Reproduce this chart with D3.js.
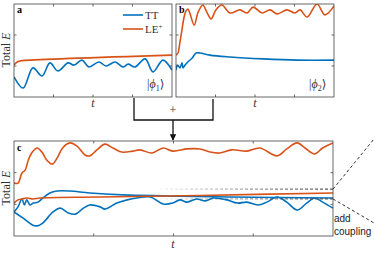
<!DOCTYPE html>
<html>
<head>
<meta charset="utf-8">
<script src="https://cdn.jsdelivr.net/npm/d3@7"></script>
<style>
  body { margin: 0; background: #fff; }
</style>
</head>
<body>
<div id="chart"></div>
<script>
// ---- data ----
const aTT_t = [0, .23, .48, .71, .91, 1.11, 1.37, 1.52, 1.72, 1.90, 2.15, 2.33, 2.56, 2.76, 2.89, 3.06, 3.32, 3.52, 3.77, 4.0];
const aTT_E = [.65, .29, .94, .68, 1.10, .84, 1.10, 1.03, 1.19, .97, 1.13, 1.00, 1.13, .97, 1.06, .97, 1.23, .81, 1.19, .87];
const aLE_t = [0, .08, .15, .28, 4];
const aLE_E = [1.03, 1.13, 1.16, 1.18, 1.35];

const bTT_t = [0, .04, .10, .15, .18, .23, .30, .41, .51, .61, .86, 1.37, 2.20, 3.06, 4.0];
const bTT_E = [.87, 1.03, .94, 1.10, .94, 1.03, 1.13, 1.26, 1.42, 1.42, 1.35, 1.29, 1.23, 1.19, 1.19];
const bLE_t = [0, .05, .10, .15, .20, .25, .30, .35, .46, .56, .68, .78, .89, 1.01, 1.16, 1.37, 1.62, 1.80, 1.95, 2.18, 2.38, 2.56, 2.81, 3.01, 3.14, 3.32, 3.57, 3.77, 4.0];
const bLE_E = [1.35, 1.42, 1.77, 2.16, 2.55, 2.77, 2.84, 2.71, 2.32, 2.74, 2.97, 2.74, 2.52, 2.81, 2.97, 2.71, 2.81, 2.71, 2.90, 2.71, 2.81, 2.68, 2.81, 2.71, 2.81, 2.58, 3.0, 2.65, 2.94];

const cLEtop_t = [0, .05, .10, .14, .18, .23, .29, .35, .41, .48, .54, .61, .70, .79, .89, .95, 1.04, 1.14, 1.24, 1.35, 1.49, 1.58, 1.73, 1.87, 1.99, 2.17, 2.33, 2.46, 2.58, 2.73, 2.92, 3.08, 3.30, 3.42, 3.55, 3.65, 3.77, 3.87, 4.0];
const cLEtop_E = [1.67, 1.67, 1.99, 2.08, 2.40, 2.65, 2.78, 2.65, 2.40, 2.27, 2.46, 2.78, 2.94, 2.84, 2.56, 2.53, 2.72, 2.90, 2.78, 2.65, 2.68, 2.72, 2.62, 2.78, 2.68, 2.75, 2.75, 2.65, 2.62, 2.72, 2.68, 2.78, 2.53, 2.75, 2.94, 2.78, 2.59, 2.78, 2.94];
const cLEflat_t = [0, .05, .10, .16, .24, .33, 1.08, 2.33, 4.0];
const cLEflat_E = [1.04, 1.14, 1.17, 1.20, 1.17, 1.20, 1.23, 1.28, 1.36];
const cTTup_t = [0, .05, .10, .13, .16, .20, .24, .30, .36, .45, .54, .70, .95, 1.45, 2.08, 2.71, 4.0];
const cTTup_E = [.76, .92, 1.17, .98, 1.14, .98, 1.04, 1.07, 1.20, 1.36, 1.42, 1.42, 1.36, 1.29, 1.26, 1.23, 1.20];
const cTTlow_t = [0, .11, .23, .29, .36, .49, .58, .68, .77, .87, .95, 1.08, 1.14, 1.29, 1.42, 1.54, 1.71, 1.87, 1.99, 2.08, 2.17, 2.29, 2.40, 2.50, 2.67, 2.80, 2.92, 3.06, 3.17, 3.30, 3.42, 3.55, 3.67, 3.77, 3.87, 4.0];
const cTTlow_E = [.76, .57, .35, .32, .41, .76, .88, .73, .69, .88, .98, .92, .85, 1.04, 1.14, 1.20, 1.23, 1.01, 1.04, 1.14, 1.07, 1.17, 1.11, 1.20, 1.14, 1.04, 1.07, .98, 1.07, 1.23, 1.07, .82, 1.04, 1.20, 1.07, .88];

const dashLevels = [1.48, 1.17];
const xTicks = [1, 2, 3];
const yTicks = [1, 2];

const blue = '#0072BD';
const orange = '#D95319';
const serif = '"Liberation Serif", "Times New Roman", serif';
const sans = '"Liberation Sans", Arial, sans-serif';

const svg = d3.select('#chart').append('svg')
  .attr('width', 374)
  .attr('height', 256)
  .style('font-family', serif);

const defs = svg.append('defs');
const grad = defs.append('linearGradient')
  .attr('id', 'fade')
  .attr('gradientUnits', 'userSpaceOnUse')
  .attr('x1', 150).attr('x2', 333).attr('y1', 0).attr('y2', 0);
grad.append('stop').attr('offset', 0).attr('stop-color', '#555').attr('stop-opacity', 0);
grad.append('stop').attr('offset', 1).attr('stop-color', '#555').attr('stop-opacity', 1);

const marker = defs.append('marker')
  .attr('id', 'arrow')
  .attr('viewBox', '0 0 10 10')
  .attr('refX', 9).attr('refY', 5)
  .attr('markerWidth', 5).attr('markerHeight', 5)
  .attr('orient', 'auto');
marker.append('path').attr('d', 'M0,0 L10,5 L0,10 z').attr('fill', '#111');

function zip(ts, es) { return ts.map((t, i) => [t, es[i]]); }

// draw one panel: box, ticks, curves
function panel(x0, x1, y0, y1, series) {
  const x = d3.scaleLinear().domain([0, 4]).range([x0, x1]);
  const y = d3.scaleLinear().domain([0, 3]).range([y1, y0]);
  const g = svg.append('g');

  const line = d3.line()
    .x(d => x(d[0]))
    .y(d => y(d[1]))
    .curve(d3.curveCatmullRom);

  const clipId = 'clip' + x0 + '_' + y0;
  defs.append('clipPath').attr('id', clipId)
    .append('rect').attr('x', x0).attr('y', y0).attr('width', x1 - x0).attr('height', y1 - y0);

  const curves = g.append('g').attr('clip-path', 'url(#' + clipId + ')');
  series.forEach(s => {
    curves.append('path')
      .datum(zip(s.t, s.e))
      .attr('d', line)
      .attr('fill', 'none')
      .attr('stroke', s.color)
      .attr('stroke-width', 1.6);
  });

  // box axes (ticks inward on all four sides)
  const tk = 2.5;
  const ax = g.append('g').attr('stroke', '#444').attr('stroke-width', 0.8);
  ax.append('rect').attr('x', x0).attr('y', y0).attr('width', x1 - x0).attr('height', y1 - y0).attr('fill', 'none');
  xTicks.forEach(v => {
    ax.append('line').attr('x1', x(v)).attr('x2', x(v)).attr('y1', y1).attr('y2', y1 - tk);
    ax.append('line').attr('x1', x(v)).attr('x2', x(v)).attr('y1', y0).attr('y2', y0 + tk);
  });
  yTicks.forEach(v => {
    ax.append('line').attr('x1', x0).attr('x2', x0 + tk).attr('y1', y(v)).attr('y2', y(v));
    ax.append('line').attr('x1', x1).attr('x2', x1 - tk).attr('y1', y(v)).attr('y2', y(v));
  });
  return { x, y, g };
}

const pa = panel(14, 172, 4, 97, [
  { t: aLE_t, e: aLE_E, color: orange },
  { t: aTT_t, e: aTT_E, color: blue }
]);
const pb = panel(176, 334, 4, 97, [
  { t: bLE_t, e: bLE_E, color: orange },
  { t: bTT_t, e: bTT_E, color: blue }
]);
const pc = panel(14, 333, 141, 236, [
  { t: cLEtop_t, e: cLEtop_E, color: orange },
  { t: cTTup_t, e: cTTup_E, color: blue },
  { t: cTTlow_t, e: cTTlow_E, color: blue },
  { t: cLEflat_t, e: cLEflat_E, color: orange }
]);

// dashed converged levels in panel c
dashLevels.forEach(v => {
  svg.append('line')
    .attr('x1', 150).attr('x2', 333)
    .attr('y1', pc.y(v)).attr('y2', pc.y(v))
    .attr('stroke', 'url(#fade)')
    .attr('stroke-width', 1.2)
    .attr('stroke-dasharray', '3,2');
});

// dashed lines out to the right
svg.append('line').attr('x1', 333).attr('y1', pc.y(dashLevels[0]))
  .attr('x2', 374).attr('y2', 139)
  .attr('stroke', '#333').attr('stroke-width', 1).attr('stroke-dasharray', '3,2.5');
svg.append('line').attr('x1', 333).attr('y1', pc.y(dashLevels[1]))
  .attr('x2', 374).attr('y2', 223)
  .attr('stroke', '#333').attr('stroke-width', 1).attr('stroke-dasharray', '3,2.5');

svg.append('text').attr('x', 334).attr('y', 222)
  .style('font-family', sans).style('font-size', '10px').attr('fill', '#222').text('add');
svg.append('text').attr('x', 334).attr('y', 235)
  .style('font-family', sans).style('font-size', '10px').attr('fill', '#222').text('coupling');

// y labels
function yLabel(cx, cy) {
  const t = svg.append('text')
    .attr('transform', 'translate(' + cx + ',' + cy + ') rotate(-90)')
    .attr('text-anchor', 'middle')
    .attr('fill', '#333')
    .style('font-family', serif)
    .style('font-size', '12px');
  t.append('tspan').text('Total ');
  t.append('tspan').style('font-style', 'italic').text('E');
}
yLabel(10, 50);
yLabel(10, 188);

// x labels
[[93, 107], [255, 107], [173, 248]].forEach(p => {
  svg.append('text').attr('x', p[0]).attr('y', p[1])
    .attr('text-anchor', 'middle').attr('fill', '#333')
    .style('font-family', serif)
    .style('font-size', '12px').style('font-style', 'italic').text('t');
});

// panel letters
[['a', 17, 13], ['b', 179, 13], ['c', 17, 151]].forEach(p => {
  svg.append('text').attr('x', p[1]).attr('y', p[2])
    .style('font-family', serif)
    .style('font-size', '10px').style('font-weight', 'bold').text(p[0]);
});

// legend
const legend = [['TT', blue], ['LE', orange]];
legend.forEach((d, i) => {
  const ly = 15 + i * 14;
  svg.append('line').attr('x1', 123).attr('x2', 143).attr('y1', ly).attr('y2', ly)
    .attr('stroke', d[1]).attr('stroke-width', 1.6);
  const t = svg.append('text').attr('x', 145).attr('y', ly + 3.5).attr('fill', '#333')
    .style('font-family', serif).style('font-size', '11px').text(d[0]);
  if (i === 1) t.append('tspan').attr('dy', -4).style('font-size', '7px').text('+');
});

// state kets
function ket(xp, yp, n) {
  const t = svg.append('text').attr('x', xp).attr('y', yp).attr('fill', '#333')
    .style('font-family', serif).style('font-size', '12px');
  t.append('tspan').text('|');
  t.append('tspan').style('font-style', 'italic').text('\u03d5');
  t.append('tspan').attr('dy', 2.5).style('font-size', '8px').text(n);
  t.append('tspan').attr('dy', -2.5).style('font-family', '"DejaVu Serif", serif').text('\u27e9');
}
ket(147, 88, '1');
ket(309, 88, '2');

// connector bracket with arrow
svg.append('path')
  .attr('d', 'M134,98 V120 H213 V99')
  .attr('fill', 'none').attr('stroke', '#111').attr('stroke-width', 1.3);
svg.append('line').attr('x1', 173).attr('x2', 173).attr('y1', 120).attr('y2', 140)
  .attr('stroke', '#111').attr('stroke-width', 1.3).attr('marker-end', 'url(#arrow)');
svg.append('text').attr('x', 173).attr('y', 114).attr('text-anchor', 'middle')
  .attr('fill', '#333').style('font-family', serif)
  .style('font-size', '12px').text('+');
</script>
</body>
</html>
